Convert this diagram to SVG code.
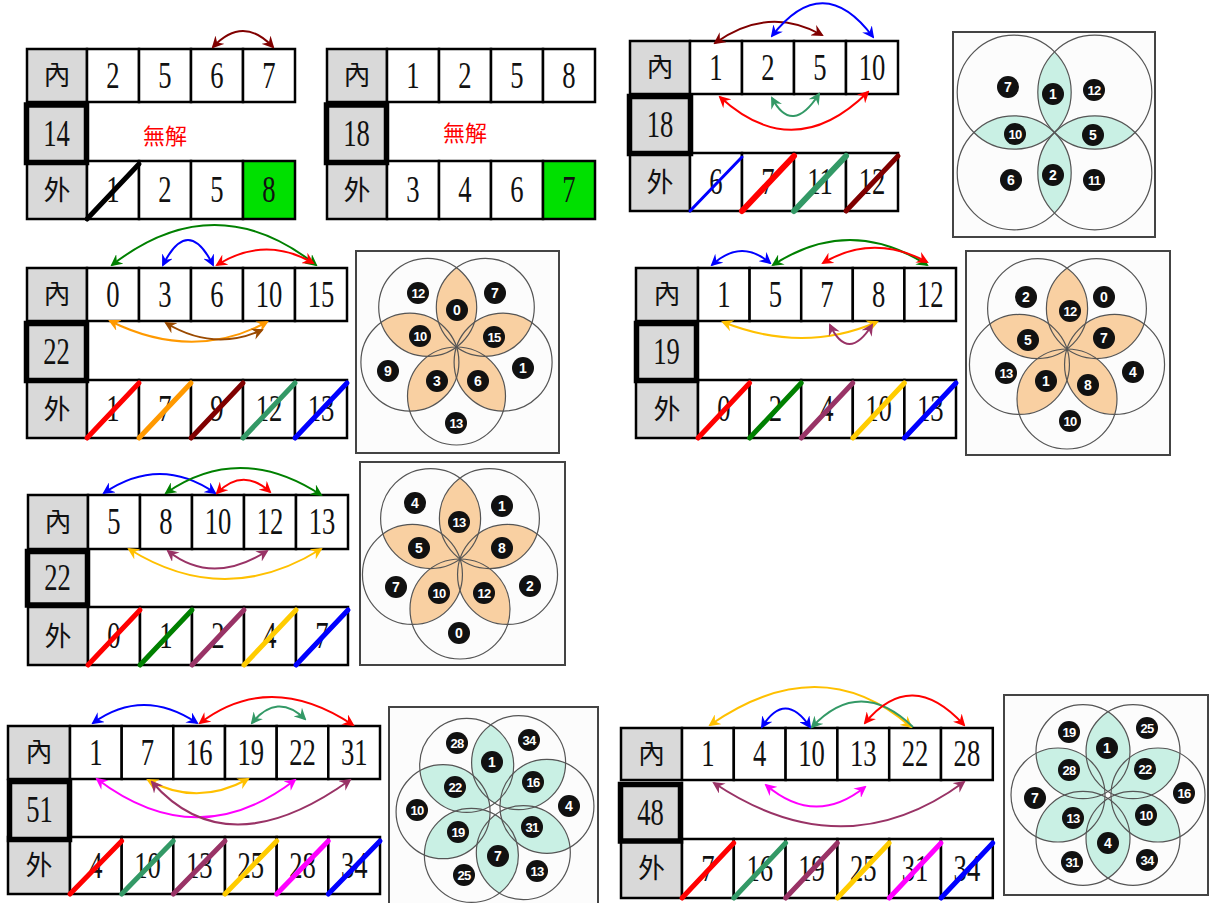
<svg xmlns="http://www.w3.org/2000/svg" width="1210" height="903" viewBox="0 0 1210 903">
<style>
.c{fill:#fff;stroke:#000;stroke-width:2.5}
.g{fill:#d9d9d9;stroke:#000;stroke-width:2.5}
.gc{fill:#00e000;stroke:#000;stroke-width:2.5}
.tb{fill:#d9d9d9;stroke:#000;stroke-width:5.5}
.n{font-family:"Liberation Serif",serif;font-size:37px;text-anchor:middle;fill:#111}
.k{font-family:"Noto Sans CJK TC","Noto Sans CJK SC",sans-serif;font-size:27px;text-anchor:middle;fill:#111}
.w{font-family:"Noto Sans CJK TC","Noto Sans CJK SC",sans-serif;font-size:22px;text-anchor:middle;fill:#f00}
.box{fill:#fcfcfc;stroke:#444;stroke-width:2}
.fc{fill:none;stroke:#555;stroke-width:1.2}
.cy{fill:#c9f0e4}
.og{fill:#f9d0a2}
.bd circle{fill:#111;r:11px}
.bd text{font-family:"Liberation Sans",Arial,sans-serif;font-weight:bold;font-size:14px;fill:#fff;text-anchor:middle}
.bd text.t2{font-size:13px;letter-spacing:-0.8px}
.ar{fill:none;stroke-width:2}
.sl{stroke-width:5;stroke-linecap:round}
.a-dr{stroke:#800000;marker-start:url(#m-dr);marker-end:url(#m-dr)}
.a-bl{stroke:#0000ff;marker-start:url(#m-bl);marker-end:url(#m-bl)}
.a-rd{stroke:#ff0000;marker-start:url(#m-rd);marker-end:url(#m-rd)}
.a-sg{stroke:#339966;marker-start:url(#m-sg);marker-end:url(#m-sg)}
.a-gn{stroke:#008000;marker-start:url(#m-gn);marker-end:url(#m-gn)}
.a-or{stroke:#ff9900;marker-start:url(#m-or);marker-end:url(#m-or)}
.a-br{stroke:#9a4a00;marker-start:url(#m-br);marker-end:url(#m-br)}
.a-go{stroke:#ffc000;marker-start:url(#m-go);marker-end:url(#m-go)}
.a-pu{stroke:#993366;marker-start:url(#m-pu);marker-end:url(#m-pu)}
.a-mg{stroke:#ff00ff;marker-start:url(#m-mg);marker-end:url(#m-mg)}
</style>
<defs>
<marker id="m-dr" viewBox="0 0 12 12" refX="10" refY="6" markerWidth="12" markerHeight="12" markerUnits="userSpaceOnUse" orient="auto-start-reverse"><path d="M0,0 L12,6 L0,12 L4,6Z" fill="#800000"/></marker>
<marker id="m-bl" viewBox="0 0 12 12" refX="10" refY="6" markerWidth="12" markerHeight="12" markerUnits="userSpaceOnUse" orient="auto-start-reverse"><path d="M0,0 L12,6 L0,12 L4,6Z" fill="#0000ff"/></marker>
<marker id="m-rd" viewBox="0 0 12 12" refX="10" refY="6" markerWidth="12" markerHeight="12" markerUnits="userSpaceOnUse" orient="auto-start-reverse"><path d="M0,0 L12,6 L0,12 L4,6Z" fill="#ff0000"/></marker>
<marker id="m-sg" viewBox="0 0 12 12" refX="10" refY="6" markerWidth="12" markerHeight="12" markerUnits="userSpaceOnUse" orient="auto-start-reverse"><path d="M0,0 L12,6 L0,12 L4,6Z" fill="#339966"/></marker>
<marker id="m-gn" viewBox="0 0 12 12" refX="10" refY="6" markerWidth="12" markerHeight="12" markerUnits="userSpaceOnUse" orient="auto-start-reverse"><path d="M0,0 L12,6 L0,12 L4,6Z" fill="#008000"/></marker>
<marker id="m-or" viewBox="0 0 12 12" refX="10" refY="6" markerWidth="12" markerHeight="12" markerUnits="userSpaceOnUse" orient="auto-start-reverse"><path d="M0,0 L12,6 L0,12 L4,6Z" fill="#ff9900"/></marker>
<marker id="m-br" viewBox="0 0 12 12" refX="10" refY="6" markerWidth="12" markerHeight="12" markerUnits="userSpaceOnUse" orient="auto-start-reverse"><path d="M0,0 L12,6 L0,12 L4,6Z" fill="#9a4a00"/></marker>
<marker id="m-go" viewBox="0 0 12 12" refX="10" refY="6" markerWidth="12" markerHeight="12" markerUnits="userSpaceOnUse" orient="auto-start-reverse"><path d="M0,0 L12,6 L0,12 L4,6Z" fill="#ffc000"/></marker>
<marker id="m-pu" viewBox="0 0 12 12" refX="10" refY="6" markerWidth="12" markerHeight="12" markerUnits="userSpaceOnUse" orient="auto-start-reverse"><path d="M0,0 L12,6 L0,12 L4,6Z" fill="#993366"/></marker>
<marker id="m-mg" viewBox="0 0 12 12" refX="10" refY="6" markerWidth="12" markerHeight="12" markerUnits="userSpaceOnUse" orient="auto-start-reverse"><path d="M0,0 L12,6 L0,12 L4,6Z" fill="#ff00ff"/></marker>
<clipPath id="k5a"><circle cx="466.68" cy="765.39" r="47"/></clipPath>
<clipPath id="k5b"><circle cx="518.61" cy="762.67" r="47"/></clipPath>
<clipPath id="k5c"><circle cx="546.93" cy="806.28" r="47"/></clipPath>
<clipPath id="k5d"><circle cx="523.32" cy="852.61" r="47"/></clipPath>
<clipPath id="k5e"><circle cx="471.39" cy="855.33" r="47"/></clipPath>
<clipPath id="k5f"><circle cx="443.07" cy="811.72" r="47"/></clipPath>
<clipPath id="k6a"><circle cx="1083" cy="751.7" r="47"/></clipPath>
<clipPath id="k6b"><circle cx="1133" cy="751.7" r="47"/></clipPath>
<clipPath id="k6c"><circle cx="1158" cy="795" r="47"/></clipPath>
<clipPath id="k6d"><circle cx="1133" cy="838.3" r="47"/></clipPath>
<clipPath id="k6e"><circle cx="1083" cy="838.3" r="47"/></clipPath>
<clipPath id="k6f"><circle cx="1058" cy="795" r="47"/></clipPath>
</defs>
<rect width="1210" height="903" fill="#fff"/>

<!-- Panel 1 -->
<g id="panel1">
<rect class="g" x="27" y="49" width="60" height="53"/>
<rect class="c" x="87" y="49" width="52" height="53"/><rect class="c" x="139" y="49" width="52" height="53"/><rect class="c" x="191" y="49" width="52" height="53"/><rect class="c" x="243" y="49" width="52" height="53"/>
<rect class="g" x="27" y="161" width="60" height="58"/>
<rect class="c" x="87" y="161" width="52" height="58"/><rect class="c" x="139" y="161" width="52" height="58"/><rect class="c" x="191" y="161" width="52" height="58"/><rect class="gc" x="243" y="161" width="52" height="58"/>
<rect class="tb" x="26.5" y="105" width="60" height="57.5"/>
<text class="k" x="57" y="85">內</text><text class="k" x="57" y="200">外</text>
<text class="n" transform="translate(113 88) scale(.72 1)">2</text><text class="n" transform="translate(165 88) scale(.72 1)">5</text><text class="n" transform="translate(217 88) scale(.72 1)">6</text><text class="n" transform="translate(269 88) scale(.72 1)">7</text>
<text class="n" transform="translate(56.5 146) scale(.72 1)">14</text>
<text class="w" x="165" y="144">無解</text>
<text class="n" transform="translate(113 202) scale(.72 1)">1</text><text class="n" transform="translate(165 202) scale(.72 1)">2</text><text class="n" transform="translate(217 202) scale(.72 1)">5</text><text class="n" transform="translate(269 202) scale(.72 1)">8</text>
<line class="sl" x1="87" y1="219" x2="139" y2="164" stroke="#000"/>
</g>

<!-- Panel 2 -->
<g id="panel2">
<rect class="g" x="327" y="49" width="60" height="53"/>
<rect class="c" x="387" y="49" width="52" height="53"/><rect class="c" x="439" y="49" width="52" height="53"/><rect class="c" x="491" y="49" width="52" height="53"/><rect class="c" x="543" y="49" width="52" height="53"/>
<rect class="g" x="327" y="161" width="60" height="58"/>
<rect class="c" x="387" y="161" width="52" height="58"/><rect class="c" x="439" y="161" width="52" height="58"/><rect class="c" x="491" y="161" width="52" height="58"/><rect class="gc" x="543" y="161" width="52" height="58"/>
<rect class="tb" x="326.5" y="105" width="60" height="57.5"/>
<text class="k" x="357" y="85">內</text><text class="k" x="357" y="200">外</text>
<text class="n" transform="translate(413 88) scale(.72 1)">1</text><text class="n" transform="translate(465 88) scale(.72 1)">2</text><text class="n" transform="translate(517 88) scale(.72 1)">5</text><text class="n" transform="translate(569 88) scale(.72 1)">8</text>
<text class="n" transform="translate(356.5 146) scale(.72 1)">18</text>
<text class="w" x="465" y="141">無解</text>
<text class="n" transform="translate(413 202) scale(.72 1)">3</text><text class="n" transform="translate(465 202) scale(.72 1)">4</text><text class="n" transform="translate(517 202) scale(.72 1)">6</text><text class="n" transform="translate(569 202) scale(.72 1)">7</text>
</g>

<!-- Panel 3 -->
<g id="panel3">
<rect class="g" x="630" y="41" width="60" height="53"/>
<rect class="c" x="690" y="41" width="52" height="53"/><rect class="c" x="742" y="41" width="52" height="53"/><rect class="c" x="794" y="41" width="52" height="53"/><rect class="c" x="846" y="41" width="52" height="53"/>
<rect class="g" x="630" y="153" width="60" height="58"/>
<rect class="c" x="690" y="153" width="52" height="58"/><rect class="c" x="742" y="153" width="52" height="58"/><rect class="c" x="794" y="153" width="52" height="58"/><rect class="c" x="846" y="153" width="52" height="58"/>
<rect class="tb" x="629.5" y="96.5" width="61" height="57"/>
<text class="k" x="660" y="77">內</text><text class="k" x="660" y="192">外</text>
<text class="n" transform="translate(716 80) scale(.72 1)">1</text><text class="n" transform="translate(768 80) scale(.72 1)">2</text><text class="n" transform="translate(820 80) scale(.72 1)">5</text><text class="n" transform="translate(872 80) scale(.72 1)">10</text>
<text class="n" transform="translate(660 137) scale(.72 1)">18</text>
<text class="n" transform="translate(716 194) scale(.72 1)">6</text><text class="n" transform="translate(768 194) scale(.72 1)">7</text><text class="n" transform="translate(820 194) scale(.72 1)">11</text><text class="n" transform="translate(872 194) scale(.72 1)">12</text>
<line class="sl" x1="690" y1="211" x2="742" y2="157" stroke="#0000ff" style="stroke-width:3"/>
<line class="sl" x1="742" y1="211" x2="794" y2="156" stroke="#ff0000" style="stroke-width:6"/>
<line class="sl" x1="794" y1="211" x2="846" y2="156" stroke="#339966" style="stroke-width:6"/>
<line class="sl" x1="846" y1="211" x2="898" y2="156" stroke="#800000"/>
</g>

<!-- Flower 1 -->
<g id="flower1">
<rect class="box" x="953" y="32" width="202" height="205"/>
<path class="cy" d="M1054.5,132.5 A57,57 0 0 1 1054.5,51.9 A57,57 0 0 1 1054.5,132.5Z"/>
<path class="cy" d="M1054.5,132.5 A57,57 0 0 1 973.9,132.5 A57,57 0 0 1 1054.5,132.5Z"/>
<path class="cy" d="M1054.5,132.5 A57,57 0 0 1 1135.1,132.5 A57,57 0 0 1 1054.5,132.5Z"/>
<path class="cy" d="M1054.5,132.5 A57,57 0 0 1 1054.5,213.1 A57,57 0 0 1 1054.5,132.5Z"/>
<circle class="fc" cx="1014.2" cy="92.2" r="57"/><circle class="fc" cx="1094.8" cy="92.2" r="57"/><circle class="fc" cx="1094.8" cy="172.8" r="57"/><circle class="fc" cx="1014.2" cy="172.8" r="57"/>
<g class="bd">
<g transform="translate(1008 87)"><circle r="11"/><text y="5">7</text></g>
<g transform="translate(1053 94)"><circle r="11"/><text y="5">1</text></g>
<g transform="translate(1094 90)"><circle r="11"/><text class="t2" y="4.5">12</text></g>
<g transform="translate(1015 134)"><circle r="11"/><text class="t2" y="4.5">10</text></g>
<g transform="translate(1093 135)"><circle r="11"/><text y="5">5</text></g>
<g transform="translate(1011 180)"><circle r="11"/><text y="5">6</text></g>
<g transform="translate(1053 175)"><circle r="11"/><text y="5">2</text></g>
<g transform="translate(1094 180)"><circle r="11"/><text class="t2" y="4.5">11</text></g>
</g>
</g>

<!-- Panel 4 -->
<g id="panel4">
<rect class="g" x="27" y="268" width="60" height="53"/>
<rect class="c" x="87" y="268" width="52" height="53"/><rect class="c" x="139" y="268" width="52" height="53"/><rect class="c" x="191" y="268" width="52" height="53"/><rect class="c" x="243" y="268" width="52" height="53"/><rect class="c" x="295" y="268" width="52" height="53"/>
<rect class="g" x="27" y="380" width="60" height="58"/>
<rect class="c" x="87" y="380" width="52" height="58"/><rect class="c" x="139" y="380" width="52" height="58"/><rect class="c" x="191" y="380" width="52" height="58"/><rect class="c" x="243" y="380" width="52" height="58"/><rect class="c" x="295" y="380" width="52" height="58"/>
<rect class="tb" x="26.5" y="323.5" width="60" height="57"/>
<text class="k" x="57" y="304">內</text><text class="k" x="57" y="419">外</text>
<text class="n" transform="translate(113 307) scale(.72 1)">0</text><text class="n" transform="translate(165 307) scale(.72 1)">3</text><text class="n" transform="translate(217 307) scale(.72 1)">6</text><text class="n" transform="translate(269 307) scale(.72 1)">10</text><text class="n" transform="translate(321 307) scale(.72 1)">15</text>
<text class="n" transform="translate(56.5 364) scale(.72 1)">22</text>
<text class="n" transform="translate(113 421) scale(.72 1)">1</text><text class="n" transform="translate(165 421) scale(.72 1)">7</text><text class="n" transform="translate(217 421) scale(.72 1)">9</text><text class="n" transform="translate(269 421) scale(.72 1)">12</text><text class="n" transform="translate(321 421) scale(.72 1)">13</text>
<line class="sl" x1="87" y1="438" x2="139" y2="383" stroke="#ff0000"/>
<line class="sl" x1="139" y1="438" x2="191" y2="383" stroke="#ff9900"/>
<line class="sl" x1="191" y1="438" x2="243" y2="383" stroke="#800000"/>
<line class="sl" x1="243" y1="438" x2="295" y2="383" stroke="#339966"/>
<line class="sl" x1="295" y1="438" x2="347" y2="383" stroke="#0000ff"/>
</g>

<!-- Flower 2 -->
<g id="flower2">
<rect class="box" x="356" y="251" width="203" height="202"/>
<path class="og" d="M456.5,347 A49,49 0 0 1 456.5,267.72 A49,49 0 0 1 456.5,347Z"/>
<path class="og" d="M456.5,347 A49,49 0 0 1 531.9,322.5 A49,49 0 0 1 456.5,347Z"/>
<path class="og" d="M456.5,347 A49,49 0 0 1 503.1,411.14 A49,49 0 0 1 456.5,347Z"/>
<path class="og" d="M456.5,347 A49,49 0 0 1 409.9,411.14 A49,49 0 0 1 456.5,347Z"/>
<path class="og" d="M456.5,347 A49,49 0 0 1 381.1,322.5 A49,49 0 0 1 456.5,347Z"/>
<circle class="fc" cx="427.7" cy="307.36" r="49"/><circle class="fc" cx="485.3" cy="307.36" r="49"/><circle class="fc" cx="503.1" cy="362.14" r="49"/><circle class="fc" cx="456.5" cy="396" r="49"/><circle class="fc" cx="409.9" cy="362.14" r="49"/>
<g class="bd">
<g transform="translate(418 293)"><circle r="11"/><text class="t2" y="4.5">12</text></g>
<g transform="translate(495 293)"><circle r="11"/><text y="5">7</text></g>
<g transform="translate(457 310)"><circle r="11"/><text y="5">0</text></g>
<g transform="translate(420 336)"><circle r="11"/><text class="t2" y="4.5">10</text></g>
<g transform="translate(494 337)"><circle r="11"/><text class="t2" y="4.5">15</text></g>
<g transform="translate(388 371)"><circle r="11"/><text y="5">9</text></g>
<g transform="translate(523 368)"><circle r="11"/><text y="5">1</text></g>
<g transform="translate(437 381)"><circle r="11"/><text y="5">3</text></g>
<g transform="translate(478 381)"><circle r="11"/><text y="5">6</text></g>
<g transform="translate(456 423)"><circle r="11"/><text class="t2" y="4.5">13</text></g>
</g>
</g>

<!-- Panel 5 -->
<g id="panel5">
<rect class="g" x="636" y="268" width="62" height="53"/>
<rect class="c" x="698" y="268" width="51.6" height="53"/><rect class="c" x="749.6" y="268" width="51.6" height="53"/><rect class="c" x="801.2" y="268" width="51.6" height="53"/><rect class="c" x="852.8" y="268" width="51.6" height="53"/><rect class="c" x="904.4" y="268" width="51.6" height="53"/>
<rect class="g" x="636" y="380" width="62" height="58"/>
<rect class="c" x="698" y="380" width="51.6" height="58"/><rect class="c" x="749.6" y="380" width="51.6" height="58"/><rect class="c" x="801.2" y="380" width="51.6" height="58"/><rect class="c" x="852.8" y="380" width="51.6" height="58"/><rect class="c" x="904.4" y="380" width="51.6" height="58"/>
<rect class="tb" x="636.5" y="323.5" width="60" height="57"/>
<text class="k" x="667" y="304">內</text><text class="k" x="667" y="419">外</text>
<text class="n" transform="translate(723.8 307) scale(.72 1)">1</text><text class="n" transform="translate(775.4 307) scale(.72 1)">5</text><text class="n" transform="translate(827 307) scale(.72 1)">7</text><text class="n" transform="translate(878.6 307) scale(.72 1)">8</text><text class="n" transform="translate(930.2 307) scale(.72 1)">12</text>
<text class="n" transform="translate(666.5 364) scale(.72 1)">19</text>
<text class="n" transform="translate(723.8 421) scale(.72 1)">0</text><text class="n" transform="translate(775.4 421) scale(.72 1)">2</text><text class="n" transform="translate(827 421) scale(.72 1)">4</text><text class="n" transform="translate(878.6 421) scale(.72 1)">10</text><text class="n" transform="translate(930.2 421) scale(.72 1)">13</text>
<line class="sl" x1="698" y1="438" x2="749.6" y2="383" stroke="#ff0000"/>
<line class="sl" x1="749.6" y1="438" x2="801.2" y2="383" stroke="#008000"/>
<line class="sl" x1="801.2" y1="438" x2="852.8" y2="383" stroke="#993366"/>
<line class="sl" x1="852.8" y1="438" x2="904.4" y2="383" stroke="#ffcc00"/>
<line class="sl" x1="904.4" y1="438" x2="956" y2="383" stroke="#0000ff"/>
</g>

<!-- Flower 3 -->
<g id="flower3">
<rect class="box" x="966" y="251" width="204" height="204"/>
<path class="og" d="M1067,349 A50,50 0 0 1 1067,268.1 A50,50 0 0 1 1067,349Z"/>
<path class="og" d="M1067,349 A50,50 0 0 1 1143.94,324 A50,50 0 0 1 1067,349Z"/>
<path class="og" d="M1067,349 A50,50 0 0 1 1114.55,414.45 A50,50 0 0 1 1067,349Z"/>
<path class="og" d="M1067,349 A50,50 0 0 1 1019.45,414.45 A50,50 0 0 1 1067,349Z"/>
<path class="og" d="M1067,349 A50,50 0 0 1 990.06,324 A50,50 0 0 1 1067,349Z"/>
<circle class="fc" cx="1037.61" cy="308.55" r="50"/><circle class="fc" cx="1096.39" cy="308.55" r="50"/><circle class="fc" cx="1114.55" cy="364.45" r="50"/><circle class="fc" cx="1067" cy="399" r="50"/><circle class="fc" cx="1019.45" cy="364.45" r="50"/>
<g class="bd">
<g transform="translate(1026 297)"><circle r="11"/><text y="5">2</text></g>
<g transform="translate(1104 297)"><circle r="11"/><text y="5">0</text></g>
<g transform="translate(1070 311)"><circle r="11"/><text class="t2" y="4.5">12</text></g>
<g transform="translate(1028 340)"><circle r="11"/><text y="5">5</text></g>
<g transform="translate(1104 338)"><circle r="11"/><text y="5">7</text></g>
<g transform="translate(1006 373)"><circle r="11"/><text class="t2" y="4.5">13</text></g>
<g transform="translate(1133 372)"><circle r="11"/><text y="5">4</text></g>
<g transform="translate(1046 381)"><circle r="11"/><text y="5">1</text></g>
<g transform="translate(1088 385)"><circle r="11"/><text y="5">8</text></g>
<g transform="translate(1070 421)"><circle r="11"/><text class="t2" y="4.5">10</text></g>
</g>
</g>

<!-- Panel 6 -->
<g id="panel6">
<rect class="g" x="28" y="495" width="60" height="54"/>
<rect class="c" x="88" y="495" width="52" height="54"/><rect class="c" x="140" y="495" width="52" height="54"/><rect class="c" x="192" y="495" width="52" height="54"/><rect class="c" x="244" y="495" width="52" height="54"/><rect class="c" x="296" y="495" width="52" height="54"/>
<rect class="g" x="28" y="607" width="60" height="58"/>
<rect class="c" x="88" y="607" width="52" height="58"/><rect class="c" x="140" y="607" width="52" height="58"/><rect class="c" x="192" y="607" width="52" height="58"/><rect class="c" x="244" y="607" width="52" height="58"/><rect class="c" x="296" y="607" width="52" height="58"/>
<rect class="tb" x="27.5" y="551.5" width="60" height="53.5"/>
<text class="k" x="58" y="532">內</text><text class="k" x="58" y="646">外</text>
<text class="n" transform="translate(114 534) scale(.72 1)">5</text><text class="n" transform="translate(166 534) scale(.72 1)">8</text><text class="n" transform="translate(218 534) scale(.72 1)">10</text><text class="n" transform="translate(270 534) scale(.72 1)">12</text><text class="n" transform="translate(322 534) scale(.72 1)">13</text>
<text class="n" transform="translate(57.5 590) scale(.72 1)">22</text>
<text class="n" transform="translate(114 648) scale(.72 1)">0</text><text class="n" transform="translate(166 648) scale(.72 1)">1</text><text class="n" transform="translate(218 648) scale(.72 1)">2</text><text class="n" transform="translate(270 648) scale(.72 1)">4</text><text class="n" transform="translate(322 648) scale(.72 1)">7</text>
<line class="sl" x1="88" y1="665" x2="140" y2="610" stroke="#ff0000"/>
<line class="sl" x1="140" y1="665" x2="192" y2="610" stroke="#008000"/>
<line class="sl" x1="192" y1="665" x2="244" y2="610" stroke="#993366"/>
<line class="sl" x1="244" y1="665" x2="296" y2="610" stroke="#ffcc00"/>
<line class="sl" x1="296" y1="665" x2="348" y2="610" stroke="#0000ff"/>
</g>

<!-- Flower 4 -->
<g id="flower4">
<rect class="box" x="360" y="462" width="205" height="203"/>
<path class="og" d="M460,559 A50,50 0 0 1 460,478.1 A50,50 0 0 1 460,559Z"/>
<path class="og" d="M460,559 A50,50 0 0 1 536.94,534 A50,50 0 0 1 460,559Z"/>
<path class="og" d="M460,559 A50,50 0 0 1 507.55,624.45 A50,50 0 0 1 460,559Z"/>
<path class="og" d="M460,559 A50,50 0 0 1 412.45,624.45 A50,50 0 0 1 460,559Z"/>
<path class="og" d="M460,559 A50,50 0 0 1 383.06,534 A50,50 0 0 1 460,559Z"/>
<circle class="fc" cx="430.61" cy="518.55" r="50"/><circle class="fc" cx="489.39" cy="518.55" r="50"/><circle class="fc" cx="507.55" cy="574.45" r="50"/><circle class="fc" cx="460" cy="609" r="50"/><circle class="fc" cx="412.45" cy="574.45" r="50"/>
<g class="bd">
<g transform="translate(415 503)"><circle r="11"/><text y="5">4</text></g>
<g transform="translate(502 506)"><circle r="11"/><text y="5">1</text></g>
<g transform="translate(459 522)"><circle r="11"/><text class="t2" y="4.5">13</text></g>
<g transform="translate(419 548)"><circle r="11"/><text y="5">5</text></g>
<g transform="translate(502 548)"><circle r="11"/><text y="5">8</text></g>
<g transform="translate(396 587)"><circle r="11"/><text y="5">7</text></g>
<g transform="translate(530 586)"><circle r="11"/><text y="5">2</text></g>
<g transform="translate(439 593)"><circle r="11"/><text class="t2" y="4.5">10</text></g>
<g transform="translate(484 593)"><circle r="11"/><text class="t2" y="4.5">12</text></g>
<g transform="translate(459 633)"><circle r="11"/><text y="5">0</text></g>
</g>
</g>

<!-- Panel 7 -->
<g id="panel7">
<rect class="g" x="8" y="726" width="62" height="53"/>
<rect class="c" x="70" y="726" width="51.7" height="53"/><rect class="c" x="121.7" y="726" width="51.6" height="53"/><rect class="c" x="173.3" y="726" width="51.7" height="53"/><rect class="c" x="225" y="726" width="51.7" height="53"/><rect class="c" x="276.7" y="726" width="51.6" height="53"/><rect class="c" x="328.3" y="726" width="51.7" height="53"/>
<rect class="g" x="8" y="837" width="62" height="57"/>
<rect class="c" x="70" y="837" width="51.7" height="57"/><rect class="c" x="121.7" y="837" width="51.6" height="57"/><rect class="c" x="173.3" y="837" width="51.7" height="57"/><rect class="c" x="225" y="837" width="51.7" height="57"/><rect class="c" x="276.7" y="837" width="51.6" height="57"/><rect class="c" x="328.3" y="837" width="51.7" height="57"/>
<rect class="tb" x="9.5" y="781.5" width="60" height="58"/>
<text class="k" x="39" y="762">內</text><text class="k" x="39" y="875">外</text>
<text class="n" transform="translate(95.8 765) scale(.72 1)">1</text><text class="n" transform="translate(147.5 765) scale(.72 1)">7</text><text class="n" transform="translate(199.2 765) scale(.72 1)">16</text><text class="n" transform="translate(250.8 765) scale(.72 1)">19</text><text class="n" transform="translate(302.5 765) scale(.72 1)">22</text><text class="n" transform="translate(354.2 765) scale(.72 1)">31</text>
<text class="n" transform="translate(39.5 822) scale(.72 1)">51</text>
<text class="n" transform="translate(95.8 878) scale(.72 1)">4</text><text class="n" transform="translate(147.5 878) scale(.72 1)">10</text><text class="n" transform="translate(199.2 878) scale(.72 1)">13</text><text class="n" transform="translate(250.8 878) scale(.72 1)">25</text><text class="n" transform="translate(302.5 878) scale(.72 1)">28</text><text class="n" transform="translate(354.2 878) scale(.72 1)">34</text>
<line class="sl" x1="70" y1="894" x2="121.7" y2="841" stroke="#ff0000"/>
<line class="sl" x1="121.7" y1="894" x2="173.3" y2="841" stroke="#339966"/>
<line class="sl" x1="173.3" y1="894" x2="225" y2="841" stroke="#993366"/>
<line class="sl" x1="225" y1="894" x2="276.7" y2="841" stroke="#ffcc00"/>
<line class="sl" x1="276.7" y1="894" x2="328.3" y2="841" stroke="#ff00ff"/>
<line class="sl" x1="328.3" y1="894" x2="380" y2="841" stroke="#0000ff"/>
</g>

<!-- Flower 5 -->
<g id="flower5">
<rect class="box" x="389" y="707" width="209" height="200"/>
<circle class="cy" cx="466.68" cy="765.39" r="47" clip-path="url(#k5b)"/>
<circle class="cy" cx="518.61" cy="762.67" r="47" clip-path="url(#k5c)"/>
<circle class="cy" cx="546.93" cy="806.28" r="47" clip-path="url(#k5d)"/>
<circle class="cy" cx="523.32" cy="852.61" r="47" clip-path="url(#k5e)"/>
<circle class="cy" cx="471.39" cy="855.33" r="47" clip-path="url(#k5f)"/>
<circle class="cy" cx="443.07" cy="811.72" r="47" clip-path="url(#k5a)"/>
<circle class="fc" cx="466.68" cy="765.39" r="47"/><circle class="fc" cx="518.61" cy="762.67" r="47"/><circle class="fc" cx="546.93" cy="806.28" r="47"/><circle class="fc" cx="523.32" cy="852.61" r="47"/><circle class="fc" cx="471.39" cy="855.33" r="47"/><circle class="fc" cx="443.07" cy="811.72" r="47"/>
<g class="bd">
<g transform="translate(457 743)"><circle r="11"/><text class="t2" y="4.5">28</text></g>
<g transform="translate(529 740)"><circle r="11"/><text class="t2" y="4.5">34</text></g>
<g transform="translate(492 762)"><circle r="11"/><text y="5">1</text></g>
<g transform="translate(455 787)"><circle r="11"/><text class="t2" y="4.5">22</text></g>
<g transform="translate(533 782)"><circle r="11"/><text class="t2" y="4.5">16</text></g>
<g transform="translate(417 810)"><circle r="11"/><text class="t2" y="4.5">10</text></g>
<g transform="translate(569 806)"><circle r="11"/><text y="5">4</text></g>
<g transform="translate(458 832)"><circle r="11"/><text class="t2" y="4.5">19</text></g>
<g transform="translate(532 827)"><circle r="11"/><text class="t2" y="4.5">31</text></g>
<g transform="translate(498 856)"><circle r="11"/><text y="5">7</text></g>
<g transform="translate(464 875)"><circle r="11"/><text class="t2" y="4.5">25</text></g>
<g transform="translate(537 871)"><circle r="11"/><text class="t2" y="4.5">13</text></g>
</g>
</g>

<!-- Panel 8 -->
<g id="panel8">
<rect class="g" x="621" y="728" width="61" height="52"/>
<rect class="c" x="682" y="728" width="51.8" height="52"/><rect class="c" x="733.8" y="728" width="51.8" height="52"/><rect class="c" x="785.6" y="728" width="51.8" height="52"/><rect class="c" x="837.4" y="728" width="51.8" height="52"/><rect class="c" x="889.2" y="728" width="51.8" height="52"/><rect class="c" x="941" y="728" width="51.8" height="52"/>
<rect class="g" x="621" y="839" width="61" height="59"/>
<rect class="c" x="682" y="839" width="51.8" height="59"/><rect class="c" x="733.8" y="839" width="51.8" height="59"/><rect class="c" x="785.6" y="839" width="51.8" height="59"/><rect class="c" x="837.4" y="839" width="51.8" height="59"/><rect class="c" x="889.2" y="839" width="51.8" height="59"/><rect class="c" x="941" y="839" width="51.8" height="59"/>
<rect class="tb" x="620.5" y="784.5" width="60" height="56.5"/>
<text class="k" x="651.5" y="764">內</text><text class="k" x="651.5" y="878">外</text>
<text class="n" transform="translate(707.9 766) scale(.72 1)">1</text><text class="n" transform="translate(759.7 766) scale(.72 1)">4</text><text class="n" transform="translate(811.5 766) scale(.72 1)">10</text><text class="n" transform="translate(863.3 766) scale(.72 1)">13</text><text class="n" transform="translate(915.1 766) scale(.72 1)">22</text><text class="n" transform="translate(966.9 766) scale(.72 1)">28</text>
<text class="n" transform="translate(650.5 825) scale(.72 1)">48</text>
<text class="n" transform="translate(707.9 881) scale(.72 1)">7</text><text class="n" transform="translate(759.7 881) scale(.72 1)">16</text><text class="n" transform="translate(811.5 881) scale(.72 1)">19</text><text class="n" transform="translate(863.3 881) scale(.72 1)">25</text><text class="n" transform="translate(915.1 881) scale(.72 1)">31</text><text class="n" transform="translate(966.9 881) scale(.72 1)">34</text>
<line class="sl" x1="682" y1="898" x2="733.8" y2="843" stroke="#ff0000"/>
<line class="sl" x1="733.8" y1="898" x2="785.6" y2="843" stroke="#339966"/>
<line class="sl" x1="785.6" y1="898" x2="837.4" y2="843" stroke="#993366"/>
<line class="sl" x1="837.4" y1="898" x2="889.2" y2="843" stroke="#ffcc00"/>
<line class="sl" x1="889.2" y1="898" x2="941" y2="843" stroke="#ff00ff"/>
<line class="sl" x1="941" y1="898" x2="992.8" y2="843" stroke="#0000ff"/>
</g>

<!-- Flower 6 -->
<g id="flower6">
<rect class="box" x="1004" y="695" width="204" height="200"/>
<circle class="cy" cx="1083" cy="751.7" r="47" clip-path="url(#k6b)"/>
<circle class="cy" cx="1133" cy="751.7" r="47" clip-path="url(#k6c)"/>
<circle class="cy" cx="1158" cy="795" r="47" clip-path="url(#k6d)"/>
<circle class="cy" cx="1133" cy="838.3" r="47" clip-path="url(#k6e)"/>
<circle class="cy" cx="1083" cy="838.3" r="47" clip-path="url(#k6f)"/>
<circle class="cy" cx="1058" cy="795" r="47" clip-path="url(#k6a)"/>
<circle class="fc" cx="1083" cy="751.7" r="47"/><circle class="fc" cx="1133" cy="751.7" r="47"/><circle class="fc" cx="1158" cy="795" r="47"/><circle class="fc" cx="1133" cy="838.3" r="47"/><circle class="fc" cx="1083" cy="838.3" r="47"/><circle class="fc" cx="1058" cy="795" r="47"/>
<g class="bd">
<g transform="translate(1069 732)"><circle r="11"/><text class="t2" y="4.5">19</text></g>
<g transform="translate(1147 728)"><circle r="11"/><text class="t2" y="4.5">25</text></g>
<g transform="translate(1107 748)"><circle r="11"/><text y="5">1</text></g>
<g transform="translate(1069 770)"><circle r="11"/><text class="t2" y="4.5">28</text></g>
<g transform="translate(1145 769)"><circle r="11"/><text class="t2" y="4.5">22</text></g>
<g transform="translate(1035 798)"><circle r="11"/><text y="5">7</text></g>
<g transform="translate(1184 793)"><circle r="11"/><text class="t2" y="4.5">16</text></g>
<g transform="translate(1073 818)"><circle r="11"/><text class="t2" y="4.5">13</text></g>
<g transform="translate(1146 815)"><circle r="11"/><text class="t2" y="4.5">10</text></g>
<g transform="translate(1108 843)"><circle r="11"/><text y="5">4</text></g>
<g transform="translate(1072 862)"><circle r="11"/><text class="t2" y="4.5">31</text></g>
<g transform="translate(1147 860)"><circle r="11"/><text class="t2" y="4.5">34</text></g>
</g>
</g>

<!-- Connectors -->
<g id="connectors">
<path class="ar a-dr" d="M213,47 Q243,15 273,47"/>
<path class="ar a-dr" d="M715,43 Q768,5 822,35"/>
<path class="ar a-bl" d="M772,36 Q823,-30 873,37"/>
<path class="ar a-rd" d="M720,97 Q794,165 868,92"/>
<path class="ar a-sg" d="M772,98 Q792,136 819,94"/>
<path class="ar a-gn" d="M112,265 Q215,185 316,265"/>
<path class="ar a-bl" d="M163,265 Q188,215 213,265"/>
<path class="ar a-rd" d="M217,265 Q265,235 313,263"/>
<path class="ar a-or" d="M110,321 Q193,362 267,322"/>
<path class="ar a-br" d="M166,323 Q214,352 262,330"/>
<path class="ar a-bl" d="M712,265 Q741,238 770,263"/>
<path class="ar a-gn" d="M773,265 Q850,215 927,265"/>
<path class="ar a-rd" d="M823,263 Q873,233 927,262"/>
<path class="ar a-go" d="M723,322 Q803,354 877,322"/>
<path class="ar a-pu" d="M830,325 Q848,363 872,325"/>
<path class="ar a-bl" d="M104,493 Q160,455 215,493"/>
<path class="ar a-gn" d="M166,493 Q240,442 321,495"/>
<path class="ar a-rd" d="M217,493 Q243,467 270,492"/>
<path class="ar a-go" d="M129,549 Q225,609 321,549"/>
<path class="ar a-pu" d="M168,551 Q212,586 267,551"/>
<path class="ar a-bl" d="M93,723 Q143,687 197,723"/>
<path class="ar a-rd" d="M200,723 Q270,670 353,725"/>
<path class="ar a-sg" d="M252,723 Q277,692 305,719"/>
<path class="ar a-mg" d="M97,779 Q197,855 295,780"/>
<path class="ar a-go" d="M148,780 Q197,807 248,779"/>
<path class="ar a-pu" d="M152,782 Q227,868 350,780"/>
<path class="ar a-go" d="M710,725 Q821,648 911,727"/>
<path class="ar a-bl" d="M762,727 Q785,690 810,727"/>
<path class="ar a-sg" d="M913,727 Q860,676 812,727" style="marker-start:none"/>
<path class="ar a-rd" d="M865,723 Q911,667 964,725"/>
<path class="ar a-pu" d="M714,783 Q844,870 964,782"/>
<path class="ar a-mg" d="M766,785 Q815,827 865,787"/>
</g>
</svg>
